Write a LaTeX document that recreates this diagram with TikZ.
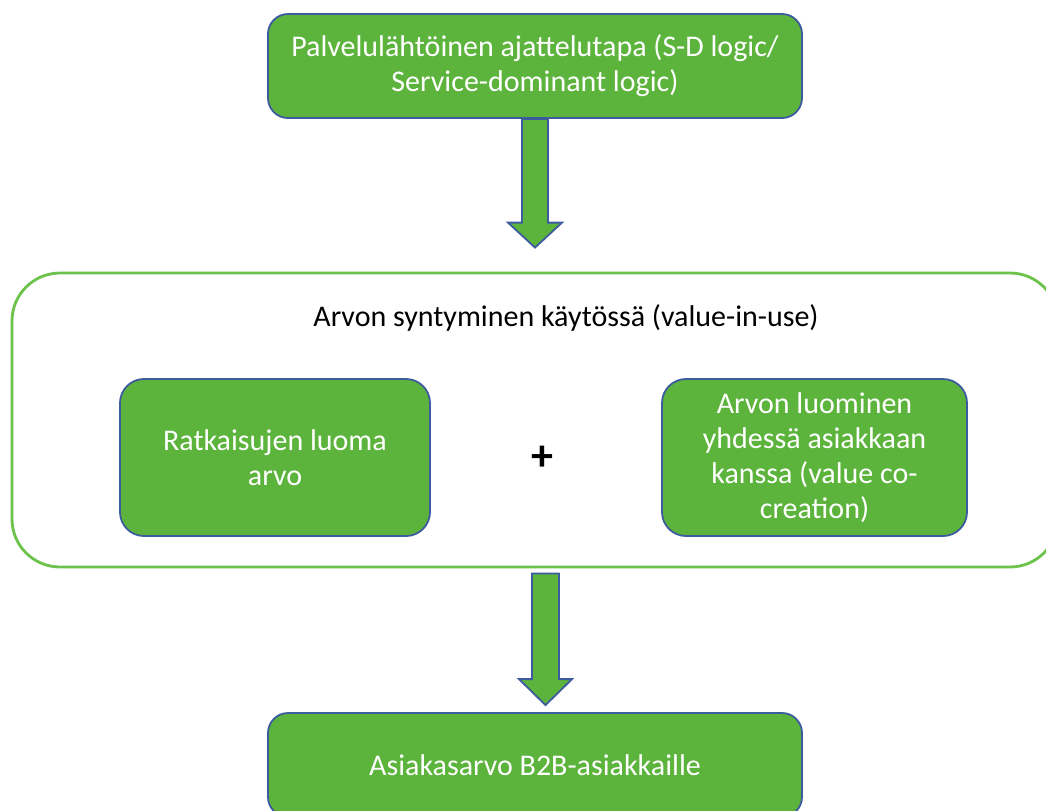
\documentclass[tikz,border=0pt]{standalone}
\usepackage{fontspec}
\setmainfont{Carlito}
\usepackage{xcolor}
\usetikzlibrary{positioning,calc}

\definecolor{boxgreen}{HTML}{5CB43C}
\definecolor{boxblue}{HTML}{3D5C9E}
\definecolor{framegreen}{HTML}{6CC24A}

\begin{document}
\begin{tikzpicture}[
  x=0.5pt,y=-0.5pt,
  font=\fontsize{15}{17.5}\selectfont,
  gbox/.style={draw=boxblue,line width=0.9pt,fill=boxgreen,text=white,
    rounded corners=10pt,align=center,inner sep=0pt},
  frame/.style={draw=framegreen,line width=1.4pt,fill=white,
    rounded corners=24pt,inner sep=0pt},
  blk/.style={draw=boxblue,line width=0.9pt,fill=boxgreen,line join=miter}
]
\useasboundingbox (0,0) rectangle (1046,810);
\node[frame,minimum width=523pt,minimum height=147pt] (usebox) at (535,420) {};
\node (usetitle) at (566,318) {Arvon syntyminen käytössä (value-in-use)};
\node[gbox,minimum width=267pt,minimum height=52pt] (top) at (535,66)
  {Palvelulähtöinen ajattelutapa (S-D logic/\\Service-dominant logic)};
\node[gbox,rounded corners=12pt,minimum width=155pt,minimum height=78.5pt] (sol) at (275,457.5)
  {Ratkaisujen luoma\\arvo};
\node[gbox,rounded corners=12pt,minimum width=152.5pt,minimum height=78.5pt] (cocr) at (814.5,457.5)
  {Arvon luominen\\yhdessä asiakkaan\\kanssa (value co-\\creation)};
\node[font=\fontsize{22}{24}\selectfont\bfseries] (plus) at (542,458) {+};
\node[gbox,minimum width=267pt,minimum height=52pt] (result) at (535,765)
  {Asiakasarvo B2B-asiakkaille};
% block arrows
\coordinate (tip1) at ($(usebox.north)+(0,-24)$);
\draw[blk] ($(top.south)+(-13,0)$) -- ($(tip1)+(-13,-25)$) -- ($(tip1)+(-27,-25)$)
  -- (tip1) -- ($(tip1)+(27,-25)$) -- ($(tip1)+(13,-25)$) -- ($(top.south)+(13,0)$) -- cycle;
\coordinate (start2) at ($(usebox.south)+(10.5,5)$);
\coordinate (tip2) at ($(result.north)+(10.5,-7)$);
\draw[blk] ($(start2)+(-13.5,0)$) -- ($(tip2)+(-13.5,-26)$) -- ($(tip2)+(-26.5,-26)$)
  -- (tip2) -- ($(tip2)+(26.5,-26)$) -- ($(tip2)+(13.5,-26)$) -- ($(start2)+(13.5,0)$) -- cycle;
\end{tikzpicture}
\end{document}
